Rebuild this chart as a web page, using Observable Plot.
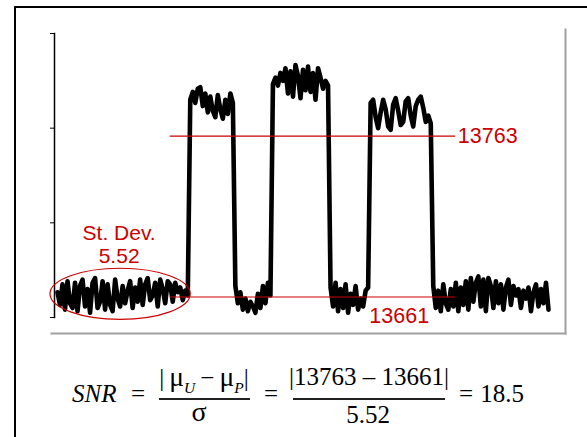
<!DOCTYPE html>
<html>
<head>
<meta charset="utf-8">
<script src="https://cdn.jsdelivr.net/npm/d3@7"></script>
<script src="https://cdn.jsdelivr.net/npm/@observablehq/plot@0.6"></script>
<style>
  body { margin: 0; background: #fff; }
  #wrap { position: relative; width: 587px; height: 437px; overflow: hidden; background: #fff; }
  #chart { position: absolute; left: 0; top: 0; }
  #border { position: absolute; left: 14px; top: 6px; width: 700px; height: 600px;
            border-left: 2px solid #000; border-top: 2px solid #000; pointer-events: none; z-index: 2; }
  .eq { position: absolute; font-family: "Liberation Serif", "Times New Roman", serif; font-size: 25px;
        line-height: 1; white-space: nowrap; color: #000; }
  .c { transform: translateX(-50%); }
  .mu { font-size: 1.1em; }
  .sub { font-style: italic; font-size: 0.62em; vertical-align: -7px; }
  .bar { position: absolute; height: 0; border-top: 2px solid #222; }
</style>
</head>
<body>
<div id="wrap">
  <div id="chart"></div>
  <div id="border"></div>
  <div class="eq" style="left:72px;top:381px;font-style:italic;">SNR</div>
  <div class="eq c" style="left:138px;top:381px;">=</div>
  <div class="eq c" style="left:204px;top:363px;">|&#8201;<span class="mu">&#956;</span><span class="sub">U</span>&#8201;&#8722;&#8201;<span class="mu">&#956;</span><span class="sub">P</span>|</div>
  <div class="bar" style="left:159px;top:398px;width:91px;"></div>
  <div class="eq c" style="left:199px;top:398px;font-size:28px;">&#963;</div>
  <div class="eq c" style="left:271px;top:381px;">=</div>
  <div class="eq c" style="left:369px;top:364px;">|13763 &#8211; 13661|</div>
  <div class="bar" style="left:293px;top:398px;width:152px;"></div>
  <div class="eq c" style="left:368px;top:402px;">5.52</div>
  <div class="eq c" style="left:466px;top:381px;">=</div>
  <div class="eq c" style="left:502px;top:381px;">18.5</div>
</div>
<script>
// ---- data ----
const base1 = [13664, 13656, 13669, 13653, 13671, 13657, 13654, 13670, 13652, 13668, 13672, 13655, 13666, 13651, 13670, 13673, 13654, 13658, 13671, 13653, 13669, 13656, 13652, 13672, 13660, 13655, 13668, 13657, 13665, 13671, 13654, 13667, 13658, 13672, 13656, 13669, 13673, 13659, 13662, 13670, 13655, 13672, 13666, 13657, 13671, 13669, 13658, 13670, 13664, 13667, 13659, 13665, 13662];
const plateau1 = [13786, 13791, 13784, 13793, 13794, 13782, 13790, 13778, 13788, 13779, 13775, 13789, 13780, 13774, 13786, 13777, 13790, 13784];
const base2 = [13668, 13657, 13664, 13653, 13660, 13652, 13658, 13655, 13651, 13663, 13654, 13668, 13657, 13670, 13662];
const plateau2 = [13796, 13800, 13795, 13803, 13798, 13806, 13790, 13804, 13788, 13808, 13801, 13787, 13805, 13792, 13807, 13791, 13803, 13786, 13806, 13800, 13793, 13798, 13795];
const base3 = [13667, 13655, 13670, 13652, 13666, 13654, 13669, 13651, 13663, 13656, 13668, 13653, 13660, 13655, 13665, 13667];
const plateau3 = [13784, 13786, 13775, 13768, 13778, 13786, 13780, 13769, 13767, 13783, 13787, 13779, 13770, 13772, 13785, 13787, 13776, 13769, 13782, 13786, 13788, 13781, 13772, 13776, 13771];
const base4 = [13668, 13654, 13665, 13652, 13669, 13657, 13653, 13666, 13655, 13670, 13652, 13667, 13656, 13671, 13653, 13673, 13658, 13670, 13674, 13655, 13672, 13652, 13673, 13668, 13654, 13671, 13657, 13669, 13653, 13667, 13672, 13656, 13668, 13662, 13666, 13654, 13665, 13660, 13667, 13652, 13664, 13669, 13655, 13666, 13657, 13670, 13653];

const yDomain = [13648, 13828];
const yTicks = [13648, 13708, 13768, 13828];
const levels = [13661, 13763];          // mean of background (P) and of unknown (U)
const levelLabels = ["13661", "13763"];
const levelStart = 45, levelEnd = 159;  // sample range of the red mean lines
const lowLabelX = 136.4;                // sample where "13661" is centred
const noteText = ["St. Dev.\n5.52"];
const noteX = 24.6, noteY = 13694.6;
const spread = { cx: 25.2, cy: 13662.7, rx: 28, ry: 16.2 }; // ellipse around background noise

// ---- build ----
const signal = [...base1, ...plateau1, ...base2, ...plateau2, ...base3, ...plateau3, ...base4];
const samples = signal.map((v, i) => ({ i, v }));
const red = "#cc0000";
const sans = "Liberation Sans, Arial, sans-serif";

function ellipseMark(...args) {
  const s = args.find(a => a && typeof a.x === "function" && typeof a.y === "function");
  const el = document.createElementNS("http://www.w3.org/2000/svg", "ellipse");
  const cx = s.x(spread.cx), cy = s.y(spread.cy);
  el.setAttribute("cx", cx);
  el.setAttribute("cy", cy);
  el.setAttribute("rx", Math.abs(s.x(spread.cx + spread.rx) - cx));
  el.setAttribute("ry", Math.abs(s.y(spread.cy + spread.ry) - cy));
  el.setAttribute("fill", "none");
  el.setAttribute("stroke", red);
  el.setAttribute("stroke-width", 1.2);
  return el;
}

const chart = Plot.plot({
  width: 587,
  height: 345,
  marginLeft: 54,
  marginRight: 22,
  marginTop: 29,
  marginBottom: 12,
  style: { background: "transparent", overflow: "visible" },
  x: { domain: [0, signal.length - 1], insetLeft: 3, insetRight: 17, axis: null },
  y: { domain: yDomain, insetTop: 4, insetBottom: 16, ticks: yTicks, tickSize: 4, tickFormat: () => "", label: null },
  marks: [
    Plot.frame({ anchor: "right", stroke: "#a0a0a0", strokeWidth: 2 }),
    Plot.frame({ anchor: "bottom", stroke: "#a0a0a0", strokeWidth: 2, insetLeft: -3 }),
    Plot.frame({ anchor: "left", insetTop: 4, insetBottom: 16, stroke: "#000", strokeWidth: 1.5 }),
    Plot.line(samples, { x: "i", y: "v", stroke: "#000", strokeWidth: 4.6, strokeLinejoin: "round", strokeLinecap: "round" }),
    Plot.ruleY(levels, { x1: levelStart, x2: levelEnd, stroke: red, strokeWidth: 1.2 }),
    Plot.text([levelLabels[1]], { x: levelEnd, y: levels[1], text: d => d, dx: 2, textAnchor: "start", fill: red, fontSize: 21.5, fontFamily: sans }),
    Plot.text([levelLabels[0]], { x: lowLabelX, y: levels[0], text: d => d, dy: 19, textAnchor: "middle", fill: red, fontSize: 21.5, fontFamily: sans }),
    Plot.text(noteText, { x: noteX, y: noteY, text: d => d, lineHeight: 1.1, textAnchor: "middle", fill: red, fontSize: 21, fontFamily: sans }),
    ellipseMark
  ]
});
document.getElementById("chart").appendChild(chart);
</script>
</body>
</html>
